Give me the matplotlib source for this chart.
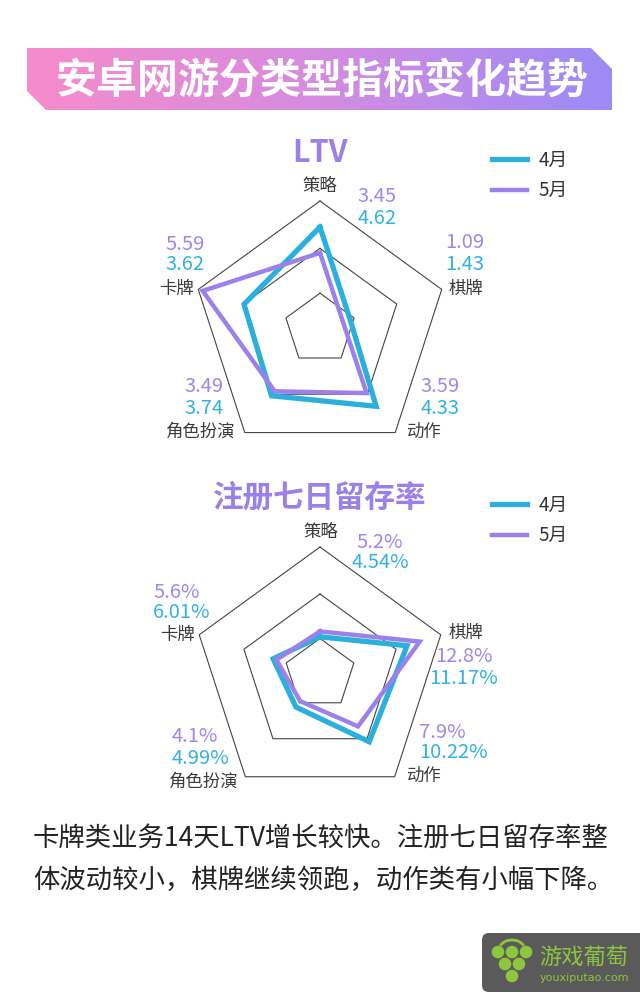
import numpy as np
import matplotlib.pyplot as plt
from matplotlib.patches import Polygon, FancyBboxPatch, Circle, Arc
from matplotlib.colors import LinearSegmentedColormap

plt.rcParams['font.family'] = ['Noto Sans CJK SC', 'DejaVu Sans']

# ---------DATA---------
categories = ['策略', '棋牌', '动作', '角色扮演', '卡牌']
months = ['4月', '5月']

ltv_apr = [4.62, 1.43, 4.33, 3.74, 3.62]
ltv_may = [3.45, 1.09, 3.59, 3.49, 5.59]

ret_apr = [4.54, 11.17, 10.22, 4.99, 6.01]   # %
ret_may = [5.2, 12.8, 7.9, 4.1, 5.6]         # %

summary = ['卡牌类业务14天LTV增长较快。注册七日留存率整',
           '体波动较小，棋牌继续领跑，动作类有小幅下降。']

# ---------STYLE---------
C_APR = '#2BAFDC'
C_MAY = '#9C80EC'
T_APR = '#33B2E0'
T_MAY = '#A088EA'
GRID = '#444444'
LABEL = '#3a3a3a'
ring_frac = [0.28, 0.63, 1.0]

W, H = 640, 1000
fig = plt.figure(figsize=(6.4, 10), dpi=100)
bg = fig.add_axes([0, 0, 1, 1])
bg.set_xlim(0, W)
bg.set_ylim(H, 0)
bg.axis('off')

# ---------TITLE BANNER---------
banner = Polygon([(27, 48), (591, 48), (612, 69), (612, 110), (46, 110), (27, 91)],
                 closed=True, facecolor='none', edgecolor='none')
bg.add_patch(banner)
cmap = LinearSegmentedColormap.from_list('banner', ['#F68BCB', '#D58CE0', '#9C8AF6'])
grad = np.linspace(0, 1, 256).reshape(1, -1)
im = bg.imshow(grad, cmap=cmap, extent=[27, 612, 110, 48], aspect='auto', zorder=1)
im.set_clip_path(banner)
bg.set_xlim(0, W)
bg.set_ylim(H, 0)
bg.text(322, 80, '安卓网游分类型指标变化趋势', color='white', fontsize=29.5,
        fontweight='bold', ha='center', va='center', zorder=2)


def radar(cx, cy, R, rmax, apr, may, title, title_y, fmt, cat_pos, val_pos, leg_y):
    ax = fig.add_axes([(cx - R) / W, 1 - (cy + R) / H, 2 * R / W, 2 * R / H],
                      projection='polar')
    ax.set_theta_offset(np.pi / 2)
    ax.set_theta_direction(-1)
    ax.set_ylim(0, rmax)
    ax.set_axis_off()
    ang = np.linspace(0, 2 * np.pi, len(categories), endpoint=False)
    ang_c = np.append(ang, ang[0])
    for f in ring_frac:
        ax.plot(ang_c, [f * rmax] * len(ang_c), color=GRID, lw=0.8, clip_on=False)
    l_apr, = ax.plot(ang_c, apr + apr[:1], color=C_APR, lw=3.8, clip_on=False,
                     solid_joinstyle='miter', zorder=3)
    l_may, = ax.plot(ang_c, may + may[:1], color=C_MAY, lw=3.2, clip_on=False,
                     solid_joinstyle='miter', zorder=4)
    ax.legend([l_apr, l_may], months, loc='upper left',
              bbox_to_anchor=(492 / W, 1 - leg_y / H), bbox_transform=fig.transFigure,
              frameon=False, fontsize=13.5, handlelength=1.85, handletextpad=0.65,
              labelspacing=0.5, borderpad=0, borderaxespad=0, labelcolor='#333333')

    bg.text(320, title_y, title, color='#9B80EA', fontsize=22, fontweight='bold',
            ha='center', va='center')
    for name, (x, y) in zip(categories, cat_pos):
        bg.text(x, y, name, color=LABEL, fontsize=12.5, ha='center', va='center')
    for va, vm, (x, y, ha) in zip(apr, may, val_pos):
        bg.text(x, y, fmt(vm), color=T_MAY, fontsize=14.5, ha=ha, va='center')
        bg.text(x, y + 21, fmt(va), color=T_APR, fontsize=14.5, ha=ha, va='center')
    return ax


# ---------LTV---------
radar(320, 329, 128, 5.8, ltv_apr, ltv_may, 'LTV', 153, lambda v: f'{v:.2f}',
      [(320, 186), (466, 289), (423, 432), (200, 432), (176, 289)],
      [(377, 197, 'center'), (465, 243, 'center'), (440, 387, 'center'),
       (204, 387, 'center'), (185, 244, 'center')],
      150)

# ---------RETENTION---------
radar(320, 674, 127, 15.5, ret_apr, ret_may, '注册七日留存率', 498, lambda v: f'{v:g}%',
      [(321, 532), (466, 633), (423, 776), (203, 782), (177, 635)],
      [(380, 542, 'center'), (464, 657, 'center'), (419, 732, 'left'),
       (172, 737, 'left'), (153, 592, 'left')],
      495)

# ---------SUMMARY TEXT---------
for i, line in enumerate(summary):
    bg.text(33, 838 + 42 * i, line, color='#222222', fontsize=19, ha='left', va='center')

# ---------LOGO---------
GREEN = '#8DC63F'
bg.add_patch(FancyBboxPatch((482, 933), 170, 59, boxstyle='round,pad=0,rounding_size=7',
                            facecolor='#5a5a5a', edgecolor='none'))
for (x, y) in [(498, 952), (512, 952), (526, 952), (505, 964), (519, 964), (512, 976)]:
    bg.add_patch(Circle((x, y), 5.6, color=GREEN))
bg.add_patch(Arc((512, 950), 26, 20, theta1=200, theta2=340, color=GREEN, lw=2))
bg.text(584, 957, '游戏葡萄', color=GREEN, fontsize=16, ha='center', va='center')
bg.text(584, 978, 'youxiputao.com', color=GREEN, fontsize=8, ha='center', va='center',
        family=['DejaVu Sans'])

fig.savefig('out.png', dpi=100, facecolor='white')
